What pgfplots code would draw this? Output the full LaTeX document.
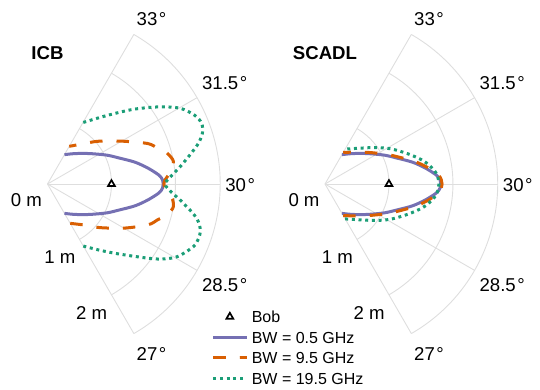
\documentclass[border=0pt]{standalone}
\usepackage{pgfplots}
\pgfplotsset{compat=1.18}
\usepackage{pgfplotstable}
\usepackage{fontspec}
\setmainfont{Liberation Sans}
\definecolor{cpur}{HTML}{7570B3}
\definecolor{cora}{HTML}{D95F02}
\definecolor{cgre}{HTML}{1B9E77}
\definecolor{cgrid}{HTML}{DEDEDE}
\newcommand\tf{\fontsize{18.6}{22}\selectfont}
\newcommand\dg{\kern1.6pt°}

% angle t in degrees (27..33), range r in m
\pgfplotstableread{
t r
27.000 0.53
27.600 0.64
28.200 0.81
28.700 1.03
29.000 1.19
29.300 1.41
29.550 1.59
29.775 1.75
29.900 1.80
30.000 1.81
30.100 1.80
30.225 1.75
30.450 1.59
30.700 1.41
31.000 1.19
31.300 1.03
31.800 0.81
32.400 0.64
33.000 0.53
}\icbA
\pgfplotstableread{
t r
27.00 0.71
27.70 0.90
28.00 1.06
28.50 1.38
28.90 1.70
29.10 1.81
29.25 1.92
29.40 1.98
29.50 2.00
29.65 1.97
29.80 1.89
29.90 1.84
30.00 1.82
30.10 1.84
30.20 1.89
30.35 1.97
30.50 2.00
30.60 1.98
30.75 1.92
30.90 1.81
31.10 1.69
31.50 1.34
32.00 1.04
32.30 0.89
33.00 0.68
}\icbB
\pgfplotstableread{
t r
27.000 1.12
27.450 1.34
27.850 1.62
28.275 2.07
28.530 2.32
28.835 2.48
29.000 2.51
29.150 2.50
29.300 2.43
29.430 2.32
29.655 2.09
29.800 1.95
29.950 1.85
30.000 1.84
30.050 1.85
30.200 1.95
30.370 2.09
30.575 2.27
30.750 2.44
30.910 2.55
31.075 2.59
31.250 2.54
31.485 2.39
31.725 2.13
32.050 1.78
32.450 1.42
33.000 1.11
}\icbC
\pgfplotstableread{
t r
27.000 0.57
27.600 0.67
28.200 0.84
28.700 1.06
29.000 1.23
29.300 1.45
29.550 1.63
29.775 1.78
29.900 1.82
30.000 1.83
30.100 1.82
30.225 1.78
30.450 1.63
30.700 1.45
31.000 1.23
31.300 1.06
31.800 0.84
32.400 0.67
33.000 0.57
}\scaB
\pgfplotstableread{
t r
27.00 0.63
27.60 0.75
28.20 0.97
28.60 1.17
29.00 1.38
29.30 1.56
29.50 1.66
29.70 1.74
29.85 1.77
30.00 1.78
30.15 1.77
30.30 1.74
30.50 1.66
30.70 1.56
31.00 1.38
31.40 1.17
31.80 0.97
32.40 0.75
33.00 0.63
}\scaC
\pgfplotstableread{
t r
30 1.0
}\bob

\pgfplotsset{
  sector/.style={x=63.96pt, y=63.96pt, xmin=0, xmax=2.7, ymin=-2.7, ymax=2.7,
    hide axis, clip=false, anchor=south west, set layers,
    legend image code/.code={\draw[mark repeat=2,mark phase=2,##1] plot coordinates {(0pt,0pt) (16.65pt,0pt) (33.3pt,0pt)};}},
  sA/.style={cpur, line width=3pt, smooth, data cs=polar},
  sB/.style={cora, line width=3pt, smooth, data cs=polar, dash pattern=on 12.5pt off 14pt},
  sC/.style={cgre, line width=3pt, smooth, data cs=polar, dash pattern=on 3pt off 3.7pt},
  sBob/.style={black, only marks, mark=triangle*, mark size=3.9pt, mark options={fill=white, draw=black, line width=1.7pt, solid}, data cs=polar},
}
\tikzset{gridc/.style={draw=cgrid, line width=0.9pt}}
\newcommand\sectorgrid{%
  \begin{pgfonlayer}{axis background}
  \draw[gridc] (axis cs:0,0) -- (axis cs:{2.7*cos(60)},{2.7*sin(60)});
  \draw[gridc] (axis cs:0,0) -- (axis cs:{2.7*cos(30)},{2.7*sin(30)});
  \draw[gridc] (axis cs:0,0) -- (axis cs:2.7,0);
  \draw[gridc] (axis cs:0,0) -- (axis cs:{2.7*cos(30)},{-2.7*sin(30)});
  \draw[gridc] (axis cs:0,0) -- (axis cs:{2.7*cos(60)},{-2.7*sin(60)});
  \draw[gridc] (axis cs:{cos(60)},{-sin(60)}) arc[start angle=-60,end angle=60,radius=63.96pt];
  \draw[gridc] (axis cs:{2*cos(60)},{-2*sin(60)}) arc[start angle=-60,end angle=60,radius=127.92pt];
  \draw[gridc] (axis cs:{2.7*cos(60)},{-2.7*sin(60)}) arc[start angle=-60,end angle=60,radius=172.69pt];
  \end{pgfonlayer}}
\newcommand\plabels[2]{%
  \begin{scope}[xshift=#1, every node/.style={inner sep=0pt, font=\tf}]
  \node[anchor=base, font=\tf\bfseries] at (47.5pt,-60pt) {#2};
  \node[anchor=base west] at (136.5pt,-26pt) {33\dg};
  \node[anchor=base west] at (201.9pt,-89.3pt) {31.5\dg};
  \node[anchor=base west] at (225.2pt,-191pt) {30\dg};
  \node[anchor=base west] at (201.9pt,-291.7pt) {28.5\dg};
  \node[anchor=base west] at (136.5pt,-360pt) {27\dg};
  \node[anchor=base] at (26.5pt,-206.7pt) {0 m};
  \node[anchor=base] at (59.85pt,-263.3pt) {1 m};
  \node[anchor=base] at (91.65pt,-319.3pt) {2 m};
  \end{scope}}

\begin{document}
\begin{tikzpicture}
\begin{axis}[sector, at={(47.5pt,-356.7pt)},
  legend cell align=left,
  legend style={at={(0.9508,0.1332)}, anchor=north west, draw=none, fill=none,
    inner sep=0pt, outer sep=0pt, row sep=8.6pt, column sep=3.8pt,
    font=\fontsize{16}{19}\selectfont,
    nodes={inner sep=0pt, text height=12pt, text depth=0pt}}]
  \sectorgrid
  \addplot[sBob] table[x expr={(\thisrow{t}-30)*20}, y=r]{\bob};
  \addlegendentry{Bob}
  \addplot[sA] table[x expr={(\thisrow{t}-30)*20}, y=r]{\icbA};
  \addlegendentry{BW = 0.5 GHz}
  \addplot[sB] table[x expr={(\thisrow{t}-30)*20}, y=r]{\icbB};
  \addlegendentry{BW = 9.5 GHz}
  \addplot[sC] table[x expr={(\thisrow{t}-30)*20}, y=r]{\icbC};
  \addlegendentry{BW = 19.5 GHz}
\end{axis}
\begin{axis}[sector, at={(325pt,-356.7pt)}]
  \sectorgrid
  \addplot[sBob] table[x expr={(\thisrow{t}-30)*20}, y=r]{\bob};
  \addplot[sA] table[x expr={(\thisrow{t}-30)*20}, y=r]{\icbA};
  \addplot[sB] table[x expr={(\thisrow{t}-30)*20}, y=r]{\scaB};
  \addplot[sC] table[x expr={(\thisrow{t}-30)*20}, y=r]{\scaC};
\end{axis}
\plabels{0pt}{ICB}
\plabels{277.5pt}{SCADL}
\pgfresetboundingbox
\useasboundingbox (0,0) rectangle (540pt,-390pt);
\end{tikzpicture}
\end{document}
